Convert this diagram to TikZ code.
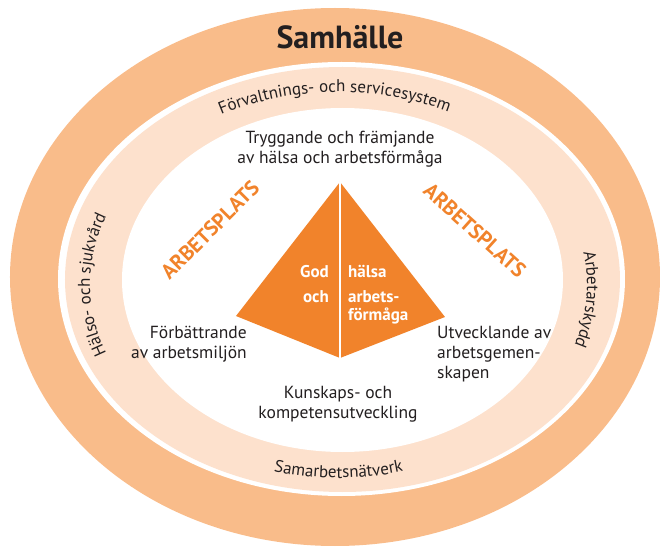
\documentclass[tikz,border=0pt]{standalone}
\usepackage{fontspec}
\setmainfont{PT Sans}
\usepackage{xcolor}
\definecolor{Ring-dark}{RGB}{249, 188, 138}
\definecolor{Ring-light}{RGB}{253, 225, 205}
\definecolor{Pyramid-orange}{RGB}{241, 131, 43}
\definecolor{Text-dark}{RGB}{35, 31, 32}
\usetikzlibrary{decorations.text}

\begin{document}
\begin{tikzpicture} [ % 先定义各类文字的样式
    x=1pt, y=1pt, font=\fontsize{17.5}{20}\selectfont,
    txt/.style = {shape = rectangle, align = center, text = Text-dark, inner sep = 0pt},
    txt-l/.style = {txt, align = left, anchor = west},
    txt-r/.style = {txt, align = right, anchor = east},
    head/.style = {txt, anchor = base, font = \fontsize{32}{32}\selectfont\bfseries},
    arbplats/.style = {inner sep = 0pt, text = Pyramid-orange, font = \fontsize{21}{21}\selectfont\bfseries},
    pyr-l/.style = {inner sep = 0pt, text = white, anchor = base east, font = \fontsize{17}{17}\selectfont\bfseries},
    pyr-r/.style = {pyr-l, anchor = base west},
    ringtext/.style = {decorate, decoration = {text along path, text align = center, text color = Text-dark}}
]

\useasboundingbox (-340,-269) rectangle (325,280);

% 外圈与内圈
\fill [Ring-dark] (-5,3) ellipse [x radius = 325, y radius = 269];
\fill [white] (1.5,1) ellipse [x radius = 283.5, y radius = 217];
\fill [Ring-light] (2.5,0.5) ellipse [x radius = 277.5, y radius = 212.5];
\fill [white] (2.5,0) ellipse [x radius = 220.5, y radius = 172];

% 环上的文字
\path [ringtext, shift = {(-1.5,-5)}, decoration = {text = {|\fontsize{17}{17}\selectfont|Förvaltnings- och servicesystem}}]
    (132:248.5 and 193) arc [start angle = 132, end angle = 50, x radius = 248.5, y radius = 193];
\path [ringtext, shift = {(-1.5,-5)}, decoration = {text = {|\fontsize{17}{17}\selectfont|Hälso- och sjukvård}}]
    (218:248.5 and 193) arc [start angle = 218, end angle = 142, x radius = 248.5, y radius = 193];
\path [ringtext, shift = {(-1.5,-5)}, decoration = {text = {|\fontsize{17}{17}\selectfont|Arbetarskydd}}]
    (26:248.5 and 193) arc [start angle = 26, end angle = -34, x radius = 248.5, y radius = 193];
\path [ringtext, shift = {(-1.5,-5)}, decoration = {text = {|\fontsize{17}{17}\selectfont|Samarbetsnätverk}}]
    (233:248.5 and 193) arc [start angle = 233, end angle = 307, x radius = 248.5, y radius = 193];

\node [head] (sam) at (0,231) {Samhälle};

% 金字塔
\coordinate (top) at (0,98);
\coordinate (lft) at (-104,-36);
\coordinate (rgt) at (105,-37);
\coordinate (bot) at (0,-78);
\fill [Pyramid-orange] (top)--(rgt)--(bot)--(lft)--cycle;
\draw [white, line width=1.5pt] (top)--(bot);

\node [pyr-l] (god) at (-11,2) {God};
\node [pyr-l] (och) at (-11,-23) {och};
\node [pyr-r] (hal) at (8,2) {hälsa};
\node [pyr-r] (arb) at (8,-23) {arbets-};
\node [pyr-r] (form) at (8,-41) {förmåga};

\node [arbplats, rotate=45] (apl) at (-130,50) {ARBETSPLATS};
\node [arbplats, rotate=-42] (apr) at (135,49.5) {ARBETSPLATS};

% 三个角与顶上的文字
\node [txt] (tryg) at (0,130.5) {Tryggande och främjande\\av hälsa och arbetsförmåga};
\node [txt-r] (forb) at (-93,-63.7) {Förbättrande\\av arbetsmiljön};
\node [txt-l] (utv) at (97,-73.7) {Utvecklande av\\arbetsgemen-\\skapen};
\node [txt] (kun) at (-2,-124.7) {Kunskaps- och\\kompetensutveckling};

\end{tikzpicture}
\end{document}
